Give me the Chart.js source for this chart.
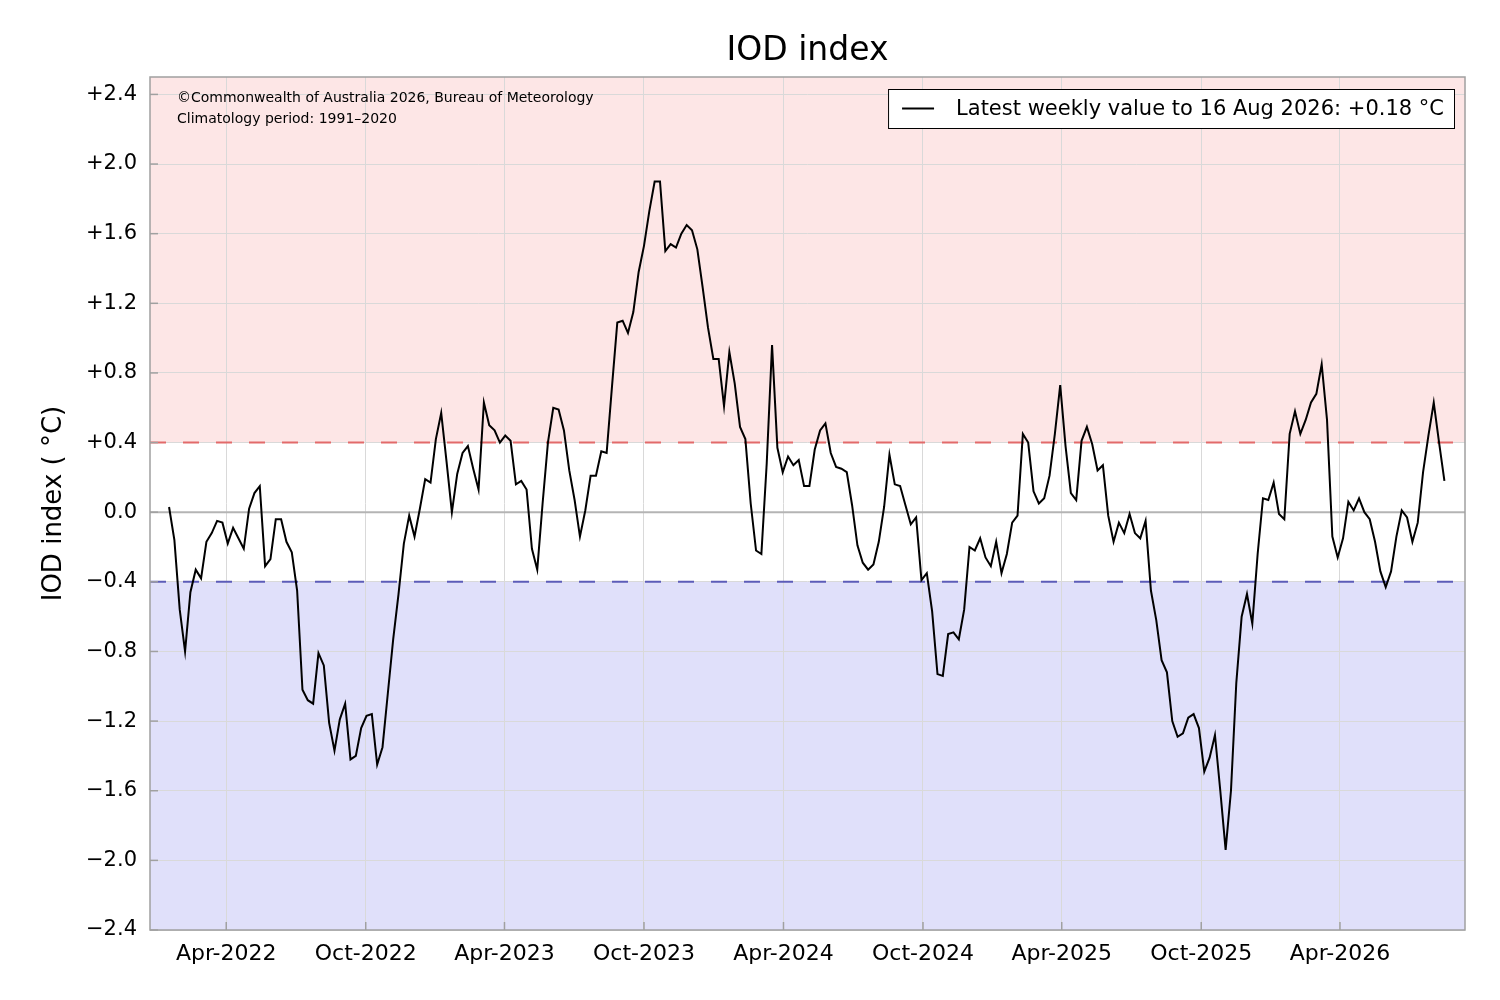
<!DOCTYPE html>
<html>
<head>
<meta charset="utf-8">
<title>IOD index</title>
<script src="https://cdn.jsdelivr.net/npm/chart.js@4.4.1/dist/chart.umd.min.js"></script>
<style>
  html, body { margin: 0; padding: 0; background: #fff; }
  #wrap { width: 1500px; height: 1000px; }
</style>
</head>
<body>
<div id="wrap"><canvas id="iodChart" width="1500" height="1000"></canvas></div>
<script>
// weekly IOD values, first week ending 16 Jan 2022, one value per week
var firstWeek = [2022, 1, 16];

var iod2022 = [0.03, -0.16, -0.56, -0.80, -0.46, -0.33, -0.38, -0.17, -0.12, -0.05,
  -0.06, -0.18, -0.09, -0.15, -0.21, 0.02, 0.11, 0.15, -0.31, -0.27,
  -0.04, -0.04, -0.17, -0.23, -0.45, -1.02, -1.08, -1.10, -0.81, -0.88,
  -1.21, -1.37, -1.19, -1.10, -1.42, -1.40, -1.24, -1.17, -1.16, -1.45,
  -1.35, -1.04, -0.73, -0.47, -0.18, -0.02, -0.14, 0.02, 0.19, 0.17];

var iod2023 = [0.42, 0.57, 0.29, 0.00, 0.22, 0.34, 0.38, 0.25, 0.13, 0.63,
  0.50, 0.47, 0.40, 0.44, 0.41, 0.16, 0.18, 0.13, -0.21, -0.33,
  0.05, 0.40, 0.60, 0.59, 0.47, 0.24, 0.07, -0.14, 0.01, 0.21,
  0.21, 0.35, 0.34, 0.72, 1.09, 1.10, 1.03, 1.15, 1.38, 1.53,
  1.73, 1.90, 1.90, 1.50, 1.54, 1.52, 1.60, 1.65, 1.62, 1.51,
  1.29, 1.06, 0.88];

var iod2024 = [0.88, 0.61, 0.92, 0.74, 0.49, 0.42, 0.05, -0.22, -0.24, 0.28,
  0.96, 0.37, 0.23, 0.32, 0.27, 0.30, 0.15, 0.15, 0.36, 0.47,
  0.51, 0.34, 0.26, 0.25, 0.23, 0.04, -0.19, -0.29, -0.33, -0.30,
  -0.17, 0.03, 0.33, 0.16, 0.15, 0.04, -0.07, -0.03, -0.39, -0.35,
  -0.57, -0.93, -0.94, -0.70, -0.69, -0.73, -0.56, -0.20, -0.22, -0.15,
  -0.26, -0.31];

var iod2025 = [-0.17, -0.35, -0.24, -0.06, -0.02, 0.45, 0.40, 0.12, 0.05, 0.08,
  0.21, 0.45, 0.73, 0.38, 0.11, 0.07, 0.41, 0.49, 0.39, 0.24,
  0.27, -0.02, -0.17, -0.06, -0.12, -0.01, -0.12, -0.15, -0.05, -0.45,
  -0.62, -0.85, -0.92, -1.20, -1.29, -1.27, -1.18, -1.16, -1.24, -1.49,
  -1.41, -1.28, -1.60, -1.94, -1.60, -0.98, -0.60, -0.47, -0.64, -0.24,
  0.08, 0.07];

var iod2026 = [0.17, -0.01, -0.04, 0.45, 0.58, 0.45, 0.53, 0.63, 0.68, 0.85,
  0.53, -0.14, -0.26, -0.15, 0.06, 0.01, 0.08, 0.00, -0.04, -0.17,
  -0.34, -0.43, -0.34, -0.14, 0.01, -0.03, -0.17, -0.06, 0.23, 0.44,
  0.63, 0.40, 0.18];

var xTickLabels = ['Apr-2022', 'Oct-2022', 'Apr-2023', 'Oct-2023', 'Apr-2024',
  'Oct-2024', 'Apr-2025', 'Oct-2025', 'Apr-2026'];
var xTickDates = [[2022, 4, 1], [2022, 10, 1], [2023, 4, 1], [2023, 10, 1], [2024, 4, 1],
  [2024, 10, 1], [2025, 4, 1], [2025, 10, 1], [2026, 4, 1]];
var yTickValues = [-2.4, -2.0, -1.6, -1.2, -0.8, -0.4, 0, 0.4, 0.8, 1.2, 1.6, 2.0, 2.4];

var posThreshold = 0.4;
var negThreshold = -0.4;
var chartTitle = 'IOD index';
var latestLabel = 'Latest weekly value to 16 Aug 2026: +0.18 \u00B0C';
var notes = ['\u00A9Commonwealth of Australia 2026, Bureau of Meteorology',
  'Climatology period: 1991\u20132020'];

(function () {
  var FONT = '"DejaVu Sans", "Liberation Sans", sans-serif';

  function day(d) {
    return Date.UTC(d[0], d[1] - 1, d[2]) / 864e5;
  }

  function fmtY(v) {
    if (Math.abs(v) < 1e-9) return '0.0';
    return (v > 0 ? '+' : '\u2212') + Math.abs(v).toFixed(1);
  }

  var startDay = day(firstWeek);
  var iodValues = iod2022.concat(iod2023, iod2024, iod2025, iod2026);
  var points = iodValues.map(function (v, i) {
    return { x: startDay + 7 * i, y: v };
  });
  var tickDays = xTickDates.map(day);

  var iodDecor = {
    id: 'iodDecor',
    beforeDraw: function (chart) {
      var a = chart.chartArea, y = chart.scales.y, ctx = chart.ctx;
      var yHi = y.getPixelForValue(posThreshold);
      var yLo = y.getPixelForValue(negThreshold);
      ctx.save();
      ctx.fillStyle = '#fde6e6';
      ctx.fillRect(a.left, a.top, a.right - a.left, yHi - a.top);
      ctx.fillStyle = '#e0e0fa';
      ctx.fillRect(a.left, yLo, a.right - a.left, a.bottom - yLo);
      ctx.restore();
    },
    beforeDatasetsDraw: function (chart) {
      var a = chart.chartArea, y = chart.scales.y, ctx = chart.ctx;
      function hline(v, color, dash, w) {
        var py = y.getPixelForValue(v);
        ctx.beginPath();
        ctx.setLineDash(dash);
        ctx.strokeStyle = color;
        ctx.lineWidth = w;
        ctx.moveTo(a.left, py);
        ctx.lineTo(a.right, py);
        ctx.stroke();
      }
      ctx.save();
      hline(0, '#b4b4b4', [], 2);
      hline(posThreshold, '#e26a6a', [16, 17], 2);
      hline(negThreshold, '#5c5cb8', [16, 17], 2);
      ctx.restore();
    },
    afterDraw: function (chart) {
      var a = chart.chartArea, ctx = chart.ctx;
      ctx.save();
      // frame
      ctx.strokeStyle = '#a0a0a0';
      ctx.lineWidth = 1.5;
      ctx.strokeRect(a.left, a.top, a.right - a.left, a.bottom - a.top);
      // inward tick marks
      chart.scales.y.ticks.forEach(function (t) {
        var py = chart.scales.y.getPixelForValue(t.value);
        ctx.beginPath();
        ctx.moveTo(a.left, py);
        ctx.lineTo(a.left + 8, py);
        ctx.stroke();
      });
      chart.scales.x.ticks.forEach(function (t) {
        var px = chart.scales.x.getPixelForValue(t.value);
        ctx.beginPath();
        ctx.moveTo(px, a.bottom);
        ctx.lineTo(px, a.bottom - 8);
        ctx.stroke();
      });
      // title, centred over the plot area
      ctx.fillStyle = '#000';
      ctx.textAlign = 'center';
      ctx.textBaseline = 'middle';
      ctx.font = '33px ' + FONT;
      ctx.fillText(chartTitle, (a.left + a.right) / 2, 51);
      // notes, top left
      ctx.font = '14px ' + FONT;
      ctx.textAlign = 'left';
      ctx.fillText(notes[0], a.left + 27, a.top + 21);
      ctx.fillText(notes[1], a.left + 27, a.top + 42);
      // legend box, top right
      ctx.font = '21px ' + FONT;
      var tw = ctx.measureText(latestLabel).width;
      var right = a.right - 11;
      var top = a.top + 12;
      var h = 39;
      var left = right - 10 - tw - 22 - 32 - 14;
      ctx.fillStyle = '#fff';
      ctx.fillRect(left, top, right - left, h);
      ctx.strokeStyle = '#000';
      ctx.lineWidth = 1;
      ctx.strokeRect(left + 0.5, top + 0.5, right - left, h);
      ctx.lineWidth = 2;
      ctx.beginPath();
      ctx.moveTo(left + 14, top + h / 2);
      ctx.lineTo(left + 46, top + h / 2);
      ctx.stroke();
      ctx.fillStyle = '#000';
      ctx.fillText(latestLabel, left + 68, top + h / 2 + 1);
      ctx.restore();
    }
  };

  function init() {
    var ctx = document.getElementById('iodChart');
    if (!ctx || typeof Chart === 'undefined') return;

    new Chart(ctx.getContext('2d'), {
      type: 'line',
      data: {
        datasets: [{
          label: 'IOD index',
          data: points,
          borderColor: '#000',
          borderWidth: 2,
          pointRadius: 0,
          tension: 0,
          fill: false
        }]
      },
      options: {
        responsive: false,
        animation: false,
        devicePixelRatio: 1,
        parsing: false,
        layout: { padding: { left: 0, right: 35, top: 77, bottom: 0 } },
        plugins: {
          legend: { display: false },
          tooltip: { enabled: false },
          title: { display: false }
        },
        scales: {
          x: {
            type: 'linear',
            min: day([2021, 12, 22]),
            max: day([2026, 9, 12]),
            afterBuildTicks: function (scale) {
              scale.ticks = tickDays.map(function (v) { return { value: v }; });
            },
            afterFit: function (scale) { scale.height = 70; },
            grid: { color: '#d9d9d9', lineWidth: 1, drawTicks: false },
            border: { display: false },
            ticks: {
              color: '#000',
              padding: 11,
              maxRotation: 0,
              autoSkip: false,
              font: { family: FONT, size: 22 },
              callback: function (v) {
                var k = tickDays.indexOf(v);
                return k >= 0 ? xTickLabels[k] : '';
              }
            }
          },
          y: {
            min: -2.4,
            max: 2.5,
            afterBuildTicks: function (scale) {
              scale.ticks = yTickValues.map(function (v) { return { value: v }; });
            },
            afterFit: function (scale) { scale.width = 150; },
            grid: { color: '#d9d9d9', lineWidth: 1, drawTicks: false },
            border: { display: false },
            title: {
              display: true,
              text: 'IOD index ( \u00B0C)',
              color: '#000',
              font: { family: FONT, size: 26 },
              padding: { top: 39 }
            },
            ticks: {
              color: '#000',
              padding: 13,
              font: { family: FONT, size: 21 },
              callback: function (v) { return fmtY(v); }
            }
          }
        }
      },
      plugins: [iodDecor]
    });
  }

  if (document.readyState === 'loading') {
    document.addEventListener('DOMContentLoaded', init);
  } else {
    init();
  }
})();
</script>
</body>
</html>
